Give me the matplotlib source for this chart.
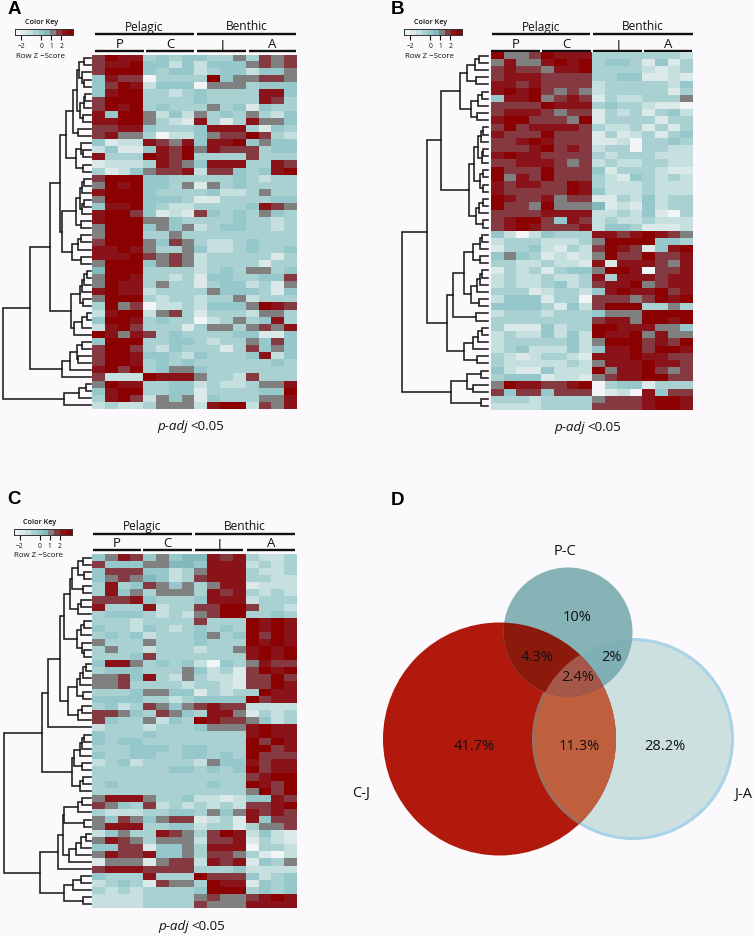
import matplotlib
matplotlib.use("Agg")
import matplotlib.pyplot as plt
from matplotlib.colors import ListedColormap
from matplotlib.patches import Circle, PathPatch
from matplotlib.path import Path
import numpy as np

### DATA ###

# one digit per cell, 0 = lowest colour step of the key, 9 = highest
# columns: P P P P C C C C J J J J A A A A
HEAT_A = [
    "7988343443363767", "7889442424446767", "7999434423442446", "4877033339466776",
    "4798244406663444", "4899332343333884", "7999333343333873", "7989343336341433",
    "8499624263436324", "8899632183138664", "7788433348883143", "7866302246779732",
    "4122876848894644", "2411487968777344", "8333987933337333", "1222387648883387",
    "3124677827743489", "7999443333343233", "6989443616343333", "8999433334223633",
    "6999444311333344", "4889432233334876", "8997412174343643", "8999664333343323",
    "6999464623443323", "6999336333333333", "7999647632234333", "8898633642234334",
    "8889767623333313", "6999467623333133", "5999333323436634", "6998332314433447",
    "6988363313442316", "8988233336444314", "6999323323362333", "3967022324446987",
    "2899267313332663", "4998343302363483", "2897333136636768", "9868734333344114",
    "4999334432336474", "7997324333137464", "7998443243334824", "7998343433333343",
    "8979346643333333", "7222988863327333", "6988334423223668", "4899334413333449",
    "3897264614333668", "2322366628992768",
]
HEAT_B = [
    "9667988833333332", "6866898934431413", "7877688933332123", "7888777733441121",
    "8878777723333324", "8989767623333313", "4889678713223336", "7777988834332110",
    "7888767713231342", "8997776913333133", "7978888732231313", "8777977713123134",
    "7789877711203343", "7778978723303322", "8988777732333222", "7788876723223322",
    "9777977741333211", "9687977732143232", "8788779832223222", "8777779842223222",
    "9877867711324233", "9776966651214233", "7777888822324103", "7899748723223222",
    "7898777824431112", "4202433388789876", "2333222369999443", "1334213279871489",
    "4643121269779778", "3322322181888768", "1323134469980778", "2322322383888788",
    "2322342378896788", "3331233248988978", "2444133077767989", "4444314279993363",
    "2333233346669999", "3333333378869989", "3111423399888664", "2322424298896866",
    "2333334269997879", "2342224248897998", "3212332188898877", "3222223268889887",
    "4211422296889767", "3444122167889977", "6988778903441333", "7477477701208477",
    "3332333367778998", "2222333377778998",
]
HEAT_C = [
    "4687464558783223", "7444665548882323", "4777442368883223", "4676542378883322",
    "3834764636881222", "3846366638783232", "7778433348882333", "8333823377997332",
    "3444323267993343", "3332333373339898", "4332432343439898", "3434233346349798",
    "6333633343339898", "3633233323368989", "3334733333338989", "4886343420436877",
    "3444333642317989", "6674832632217797", "6673333233217798", "3334664413233988",
    "4444332344449788", "3423764678772222", "7764376438861323", "7433624398776423",
    "2333233346668988", "4333433333338988", "4344333333339798", "3334443443339978",
    "4334433443439777", "2342333326448788", "3333334434349788", "3333333333337899",
    "3433333334339879", "3333333333336979", "6888633422124487", "7643723232327789",
    "3222334436468787", "6476467712318477", "6888334423313667", "2463387637982421",
    "6876366627781321", "4477144638880332", "6877844637763102", "1666167728781436",
    "7888777733342222", "4333833397774234", "2343176639881434", "3232333349993434",
    "2222333367667898", "2222333376668888",
]

# dendrograms: (merge height, child, child), L = one row
L = None
TREE_A = (88, (61, (41, (31,
    (25, (18, (14, (12, (7, L, L), (9, L, (7, L, L))), (11, (7, (6, L, L), L), (8, L, L))), (13, L, L)),
         (15, (10, L, (8, L, L)), (8, L, L))),
    (29, (15, (11, (9, (7, L, L), L), (9, (7, L, L), L)), (10, L, L)),
         (19, (13, (10, L, L), L), (10, L, L)))),
    (20, (11, (9, (7, (4, L, L), L), L), (8, L, L)), (17, (9, (4, L, L), L), L))),
    (29, (21, (14, (9, L, L), (13, L, L)), L), L)),
    (27, (12, (5, L, L), L), L))
TREE_B = (86, (61, (47,
    (28, (21, (13, (9, L, L), L), (12, L, L)), (17, (10, (6, L, L), L), (11, L, L))),
    (19, (14, (10, (7, (5, L, L), L), (6, (5, L, L), L)), (8, (5, L, L), (5, L, L))),
         (12, (9, (5, L, L), L), (5, L, L)))),
    (41, (35, (24, (15, (8, (6, L, L), L), (8, L, L)),
                   (17, (11, (8, (6, L, L), L), L), (9, L, L))), (12, L, L)),
         (24, (15, (10, (6, L, L), L), L), (11, L, L)))),
    (37, (21, (7, L, L), (15, L, L)), (7, L, L)))
TREE_C = (87, (49, (43, (31,
    (27, (21, (19, (13, (8, L, L), (7, L, L)), (8, L, L)), (13, (10, L, L), L)),
         (14, (10, (7, L, L), L), (9, L, (7, L, L)))),
    (23, (14, (11, (8, (5, L, L), L), L), (8, L, L)), (13, (9, L, L), L))), L),
    (19, (17, (11, (9, (7, L, L), L), L), (9, L, L)), (11, (8, L, L), L))),
    (51, (33, (28, (27, (13, (9, L, L), L), (7, L, L)), (22, (15, (10, (5, L, L), L), L), L)), L),
         (27, (18, (10, L, L), L), (8, L, L))))

KEY_TICKS = [-2, 0, 1, 2]
GROUPS = ["Pelagic", "Benthic"]
STAGES = ["P", "C", "J", "A"]

VENN_NAMES = ["P-C", "C-J", "J-A"]
VENN_SHARES = ["10%", "4.3%", "2%", "2.4%", "41.7%", "11.3%", "28.2%"]

### STYLE ###

FONT = "Open Sans"
BG = "#fbf9fb"
INK = "#111111"
STEP_COLOURS = ["#f1f5f5", "#dbe9e9", "#c6dfdf", "#a9d1d2", "#96c8cb",
                "#82b9bd", "#808080", "#853a42", "#8a1219", "#8b0000"]
Z_MIN, Z_MAX = -2.6, 3.2
cmap = ListedColormap(STEP_COLOURS)

plt.rcParams["font.family"] = [FONT, "DejaVu Sans"]

W, H = 755, 937
fig = plt.figure(figsize=(W / 100, H / 100), dpi=100, facecolor=BG)


def px_axes(x0, y0, x1, y1):
    """ Axes placed by its pixel box, y counted from the top """
    ax = fig.add_axes([x0 / W, 1 - y1 / H, (x1 - x0) / W, (y1 - y0) / H])
    ax.set_facecolor("none")
    return ax


page = px_axes(0, 0, W, H)
page.set_xlim(0, W)
page.set_ylim(H, 0)
page.axis("off")


def to_z(rows):
    """ Digit rows to z scores at the middle of each colour step """
    codes = np.array([[int(c) for c in row] for row in rows], dtype=float)
    step = (Z_MAX - Z_MIN) / len(STEP_COLOURS)
    return Z_MIN + (codes + 0.5) * step


def draw_tree(ax, node, next_row):
    """ Draw one merge, return its (height, row position) """
    if node is None:
        row = next_row[0]
        next_row[0] += 1
        return 0, row
    height, first, second = node
    h1, y1 = draw_tree(ax, first, next_row)
    h2, y2 = draw_tree(ax, second, next_row)
    ax.plot([h1, height, height, h2], [y1, y1, y2, y2], color="#1c1c1c", lw=1.15,
            solid_joinstyle="miter", clip_on=False)
    return height, (y1 + y2) / 2


def draw_heatmap(rows, tree, box, leaf_x, key_x, key_y, header_y, sub_y, spans, note_xy):
    x0, y0, x1, y1 = box
    z = to_z(rows)

    ax = px_axes(x0, y0, x1, y1)
    ax.imshow(z, cmap=cmap, vmin=Z_MIN, vmax=Z_MAX, aspect="auto", interpolation="nearest")
    ax.axis("off")

    den = px_axes(leaf_x - 90, y0, leaf_x, y1)
    den.set_xlim(90, 0)
    den.set_ylim(len(rows) - 0.5, -0.5)
    den.axis("off")
    draw_tree(den, tree, [0])

    # colour key
    key = px_axes(key_x, key_y, key_x + 58, key_y + 6)
    steps = np.linspace(Z_MIN, Z_MAX, len(STEP_COLOURS) + 1)
    key.pcolormesh(steps, [0, 1], ((steps[:-1] + steps[1:]) / 2)[None, :], cmap=cmap,
                   vmin=Z_MIN, vmax=Z_MAX)
    key.set_yticks([])
    key.set_xticks(KEY_TICKS)
    key.set_xticklabels(["\u22122", "0", "1", "2"], fontsize=4.8, color=INK)
    key.tick_params(axis="x", length=3.5, width=0.8, pad=1.5, color=INK)
    for spine in key.spines.values():
        spine.set_linewidth(0.7)
        spine.set_color("#333333")
    page.text(key_x + 26, key_y - 7, "Color Key", fontsize=5.2, ha="center", va="center",
              color=INK, fontweight="semibold")
    page.text(key_x + 25.5, key_y + 26, "Row Z \u2212Score", fontsize=5.7, ha="center", va="center",
              color=INK)

    # group and stage headers
    for name, (a, b) in zip(GROUPS, spans[:2]):
        page.plot([a, b], [header_y, header_y], color=INK, lw=1.7, solid_capstyle="butt")
        page.text((a + b) / 2, header_y - 8, name, fontsize=8.6, ha="center", va="center", color=INK)
    for name, (a, b) in zip(STAGES, spans[2:]):
        page.plot([a, b], [sub_y, sub_y], color=INK, lw=1.7, solid_capstyle="butt")
        page.text((a + b) / 2, sub_y - 7.5, name, fontsize=9.5, ha="center", va="center", color=INK)

    note_x, note_y = note_xy
    page.text(note_x - 3, note_y, "p-adj", fontsize=9.6, style="italic", ha="right", va="center", color=INK)
    page.text(note_x - 1, note_y, "<0.05", fontsize=9.6, ha="left", va="center", color=INK)


draw_heatmap(HEAT_A, TREE_A, (92, 55.7, 297, 410), 90.5, 15.3, 30, 35, 52,
             [(95, 194), (197, 296), (95, 144), (146, 194), (197, 246), (249, 296)], (191, 427))
draw_heatmap(HEAT_B, TREE_B, (491, 53.3, 693, 411), 487.5, 404.3, 30, 35, 52,
             [(492, 590), (593, 693), (491, 540), (542, 591), (593, 642), (644, 692)], (588, 428))
draw_heatmap(HEAT_C, TREE_C, (92, 555, 297, 909), 90.5, 13.5, 530, 535, 551,
             [(93, 192), (195, 295), (93, 141), (143, 192), (195, 243), (247, 295)], (192, 927))

for letter, x, y in [("A", 14, 9), ("B", 397, 9), ("C", 14, 500), ("D", 397, 501)]:
    page.text(x, y, letter, fontsize=13.5, fontweight="bold", ha="center", va="center", color="#000000",
              family=["Liberation Sans", "DejaVu Sans"])

### VENN ###

PC = (568, 633, 64.5)
CJ = (499.5, 740, 116.5)
JA = (633, 740, 99.5)


def circle(c, **kwargs):
    return Circle((c[0], c[1]), c[2], **kwargs)


def lens(c1, c2):
    """ Outline of the overlap of two circles """
    t = np.linspace(0, 2 * np.pi, 1440, endpoint=False)
    p1 = np.c_[c1[0] + c1[2] * np.cos(t), c1[1] + c1[2] * np.sin(t)]
    p2 = np.c_[c2[0] + c2[2] * np.cos(t), c2[1] + c2[2] * np.sin(t)]
    p1 = p1[np.hypot(p1[:, 0] - c2[0], p1[:, 1] - c2[1]) <= c2[2]]
    p2 = p2[np.hypot(p2[:, 0] - c1[0], p2[:, 1] - c1[1]) <= c1[2]]
    pts = np.vstack([p1, p2])
    mid = pts.mean(axis=0)
    pts = pts[np.argsort(np.arctan2(pts[:, 1] - mid[1], pts[:, 0] - mid[0]))]
    return Path(np.vstack([pts, pts[:1]]), closed=True)


red_clip = circle(CJ, transform=page.transData)
ja_clip = circle(JA, transform=page.transData)
lens_path = PathPatch(lens(CJ, JA), transform=page.transData)

page.add_patch(circle(JA, fc="#cce0e0", ec="#a9d3e8", lw=2.2))
page.add_patch(circle(CJ, fc="#b0190b", ec="none"))
page.add_patch(PathPatch(lens(CJ, JA), fc="#bf5f3e", ec="none"))
edge = circle(JA, fc="none", ec="#9a6f60", lw=2.2)
page.add_patch(edge)
edge.set_clip_path(red_clip)
page.add_patch(circle(PC, fc="#85b3b6", ec="none"))
for clip, colour in [(ja_clip, "#7fb0b5"), (red_clip, "#8c1a0c"), (lens_path, "#a5584a")]:
    part = circle(PC, fc=colour, ec="none")
    page.add_patch(part)
    part.set_clip_path(clip)

for name, x, y in zip(VENN_NAMES, [565, 361, 743], [552, 794, 795]):
    page.text(x, y, name, fontsize=10.5, ha="center", va="center", color=INK)
share_x = [577, 537, 611, 578, 474, 579, 665]
share_y = [618, 658, 658, 678, 747, 747, 747]
for share, x, y in zip(VENN_SHARES, share_x, share_y):
    page.text(x, y, share, fontsize=10.5, ha="center", va="center", color=INK)

fig.savefig("out.png", dpi=100, facecolor=BG)
